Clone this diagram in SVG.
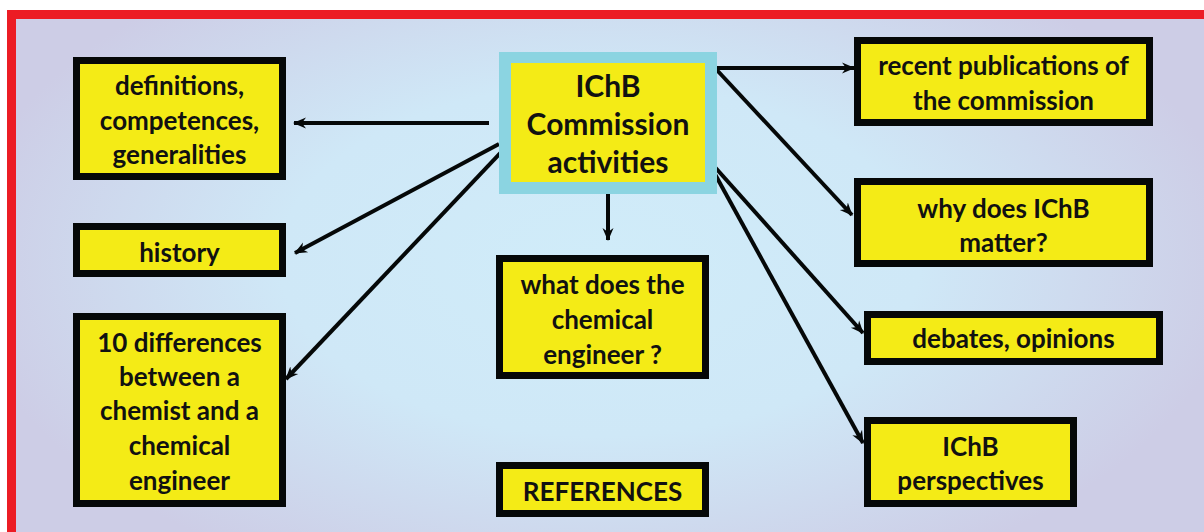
<svg xmlns="http://www.w3.org/2000/svg" width="1204" height="532" viewBox="0 0 1204 532">
<defs>
<radialGradient id="bg" cx="600" cy="260" r="640" gradientUnits="userSpaceOnUse" gradientTransform="translate(600 260) scale(1 0.55) translate(-600 -260)">
<stop offset="0" stop-color="#d0ecf9"/>
<stop offset="0.5" stop-color="#cfe8f7"/>
<stop offset="1" stop-color="#cdcde6"/>
</radialGradient>
<marker id="ah" markerUnits="userSpaceOnUse" markerWidth="14" markerHeight="14" viewBox="0 0 14 14" refX="12" refY="7" orient="auto">
<path d="M0,1.5 L13,7 L0,12.5 L4,7 Z" fill="#050808"/>
</marker>
<style>
.box{fill:#f4eb16;stroke:#050808;stroke-width:7}
.t{font-family:Lato,"Liberation Sans",sans-serif;font-weight:bold;font-size:26px;fill:#111;text-anchor:middle}
.tc{font-size:30px}
.c{stroke:#050808;stroke-width:4;fill:none;marker-end:url(#ah)}
</style>
</defs>
<rect x="0" y="0" width="1204" height="532" fill="#ffffff"/>
<rect x="11.5" y="14.5" width="1260" height="600" fill="url(#bg)" stroke="#ec1c24" stroke-width="9"/>

<g id="connectors">
<line class="c" x1="489" y1="123" x2="294" y2="123"/>
<line class="c" x1="499" y1="144" x2="295" y2="253"/>
<line class="c" x1="509" y1="144" x2="286" y2="379"/>
<line class="c" x1="608" y1="188" x2="608" y2="240"/>
<line class="c" x1="715" y1="68" x2="854" y2="68"/>
<line class="c" x1="715" y1="68" x2="852" y2="215"/>
<line class="c" x1="705" y1="156" x2="863" y2="333"/>
<line class="c" x1="705" y1="156" x2="863" y2="443"/>
</g>

<g id="center">
<rect x="499" y="52" width="218" height="142" fill="#8bd4e1"/>
<rect x="511" y="63" width="194" height="119" fill="#f4eb16"/>
<text class="t tc" x="608" y="97">IChB</text>
<text class="t tc" x="608" y="135">Commission</text>
<text class="t tc" x="608" y="173">activities</text>
</g>

<g id="definitions">
<rect class="box" x="76.5" y="60.5" width="206" height="116"/>
<text class="t" x="179.5" y="95">definitions,</text>
<text class="t" x="179.5" y="130">competences,</text>
<text class="t" x="179.5" y="164">generalities</text>
</g>

<g id="history">
<rect class="box" x="76.5" y="226.5" width="206" height="47"/>
<text class="t" x="179.5" y="262">history</text>
</g>

<g id="differences">
<rect class="box" x="76.5" y="316.5" width="206" height="187"/>
<text class="t" x="179.5" y="352">10 differences</text>
<text class="t" x="179.5" y="386">between a</text>
<text class="t" x="179.5" y="420">chemist and a</text>
<text class="t" x="179.5" y="455">chemical</text>
<text class="t" x="179.5" y="490">engineer</text>
</g>

<g id="what">
<rect class="box" x="499.5" y="258.5" width="206" height="117"/>
<text class="t" x="602.5" y="294">what does the</text>
<text class="t" x="602.5" y="329">chemical</text>
<text class="t" x="602.5" y="364">engineer ?</text>
</g>

<g id="references">
<rect class="box" x="499.5" y="465.5" width="206" height="48"/>
<text class="t" x="602.5" y="501">REFERENCES</text>
</g>

<g id="publications">
<rect class="box" x="857.5" y="40.5" width="292" height="82"/>
<text class="t" x="1003.5" y="75">recent publications of</text>
<text class="t" x="1003.5" y="110">the commission</text>
</g>

<g id="why">
<rect class="box" x="857.5" y="181.5" width="292" height="82"/>
<text class="t" x="1003.5" y="218">why does IChB</text>
<text class="t" x="1003.5" y="252">matter?</text>
</g>

<g id="debates">
<rect class="box" x="867.5" y="314.5" width="292" height="47"/>
<text class="t" x="1013.5" y="348">debates, opinions</text>
</g>

<g id="perspectives">
<rect class="box" x="867.5" y="420.5" width="206" height="83"/>
<text class="t" x="970.5" y="456">IChB</text>
<text class="t" x="970.5" y="490">perspectives</text>
</g>
</svg>
